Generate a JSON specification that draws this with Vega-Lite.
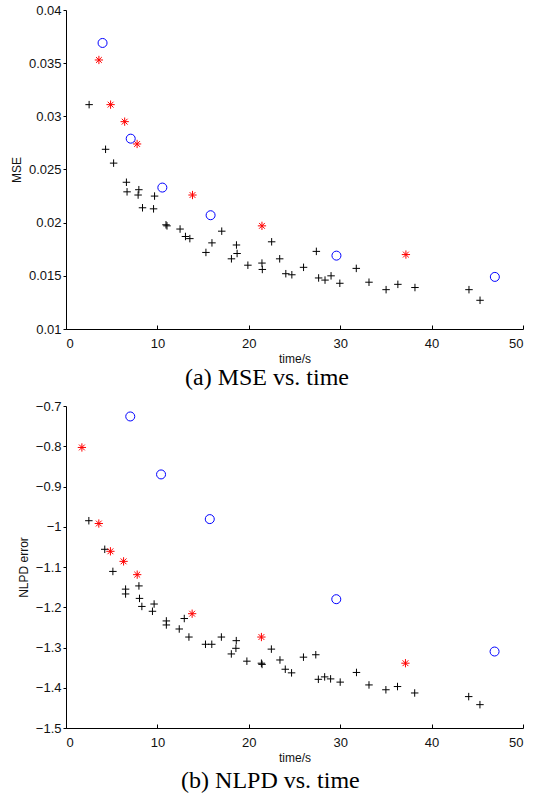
{
  "$schema": "https://vega.github.io/schema/vega-lite/v6.json",
  "background": "white",
  "padding": {"left": 10, "top": 4, "right": 10, "bottom": 0},
  "config": {
    "view": {"stroke": null},
    "axis": {
      "grid": false,
      "domainColor": "#000",
      "tickColor": "#000",
      "domainWidth": 1,
      "tickWidth": 1,
      "labelColor": "#111",
      "titleColor": "#111",
      "labelFont": "Liberation Sans",
      "titleFont": "Liberation Sans",
      "labelFontSize": 13,
      "titleFontSize": 12,
      "titleFontWeight": "normal"
    },
    "title": {"font": "Liberation Serif", "fontSize": 24, "fontWeight": "normal", "color": "#000"}
  },
  "columns": 1,
  "spacing": 10,
  "datasets": {
    "mse": [
      {"time": 2.53, "value": 0.0311, "method": "plus"},
      {"time": 4.33, "value": 0.0269, "method": "plus"},
      {"time": 5.21, "value": 0.0256, "method": "plus"},
      {"time": 6.61, "value": 0.0238, "method": "plus"},
      {"time": 6.68, "value": 0.0229, "method": "plus"},
      {"time": 7.97, "value": 0.0231, "method": "plus"},
      {"time": 7.89, "value": 0.0226, "method": "plus"},
      {"time": 9.69, "value": 0.0225, "method": "plus"},
      {"time": 8.37, "value": 0.0214, "method": "plus"},
      {"time": 9.58, "value": 0.0213, "method": "plus"},
      {"time": 10.94, "value": 0.0198, "method": "plus"},
      {"time": 11.05, "value": 0.0197, "method": "plus"},
      {"time": 12.48, "value": 0.0194, "method": "plus"},
      {"time": 13.07, "value": 0.0187, "method": "plus"},
      {"time": 13.55, "value": 0.0185, "method": "plus"},
      {"time": 17.04, "value": 0.0192, "method": "plus"},
      {"time": 15.97, "value": 0.0181, "method": "plus"},
      {"time": 15.31, "value": 0.0172, "method": "plus"},
      {"time": 18.65, "value": 0.0179, "method": "plus"},
      {"time": 18.72, "value": 0.0171, "method": "plus"},
      {"time": 18.1, "value": 0.0166, "method": "plus"},
      {"time": 19.9, "value": 0.016, "method": "plus"},
      {"time": 21.44, "value": 0.0162, "method": "plus"},
      {"time": 21.48, "value": 0.0156, "method": "plus"},
      {"time": 22.5, "value": 0.0182, "method": "plus"},
      {"time": 23.38, "value": 0.0166, "method": "plus"},
      {"time": 24.05, "value": 0.0152, "method": "plus"},
      {"time": 24.71, "value": 0.0151, "method": "plus"},
      {"time": 25.99, "value": 0.0158, "method": "plus"},
      {"time": 27.39, "value": 0.0173, "method": "plus"},
      {"time": 27.64, "value": 0.0148, "method": "plus"},
      {"time": 28.34, "value": 0.0146, "method": "plus"},
      {"time": 29.0, "value": 0.015, "method": "plus"},
      {"time": 29.96, "value": 0.0143, "method": "plus"},
      {"time": 31.76, "value": 0.0157, "method": "plus"},
      {"time": 33.15, "value": 0.0144, "method": "plus"},
      {"time": 35.02, "value": 0.0137, "method": "plus"},
      {"time": 36.31, "value": 0.0142, "method": "plus"},
      {"time": 38.18, "value": 0.0139, "method": "plus"},
      {"time": 44.09, "value": 0.0137, "method": "plus"},
      {"time": 45.3, "value": 0.0127, "method": "plus"},
      {"time": 3.6, "value": 0.0353, "method": "star"},
      {"time": 4.88, "value": 0.0311, "method": "star"},
      {"time": 6.42, "value": 0.0295, "method": "star"},
      {"time": 7.78, "value": 0.0274, "method": "star"},
      {"time": 13.84, "value": 0.0226, "method": "star"},
      {"time": 21.44, "value": 0.0197, "method": "star"},
      {"time": 37.19, "value": 0.017, "method": "star"},
      {"time": 4.0, "value": 0.0369, "method": "circle"},
      {"time": 7.08, "value": 0.0279, "method": "circle"},
      {"time": 10.54, "value": 0.0233, "method": "circle"},
      {"time": 15.82, "value": 0.0207, "method": "circle"},
      {"time": 29.59, "value": 0.0169, "method": "circle"},
      {"time": 46.92, "value": 0.0149, "method": "circle"}
    ],
    "nlpd": [
      {"time": 2.5, "value": -0.985, "method": "plus"},
      {"time": 4.24, "value": -1.056, "method": "plus"},
      {"time": 5.13, "value": -1.111, "method": "plus"},
      {"time": 6.52, "value": -1.155, "method": "plus"},
      {"time": 6.52, "value": -1.167, "method": "plus"},
      {"time": 7.98, "value": -1.147, "method": "plus"},
      {"time": 8.04, "value": -1.178, "method": "plus"},
      {"time": 9.64, "value": -1.192, "method": "plus"},
      {"time": 8.3, "value": -1.198, "method": "plus"},
      {"time": 9.46, "value": -1.21, "method": "plus"},
      {"time": 10.98, "value": -1.234, "method": "plus"},
      {"time": 10.98, "value": -1.244, "method": "plus"},
      {"time": 12.39, "value": -1.254, "method": "plus"},
      {"time": 12.94, "value": -1.228, "method": "plus"},
      {"time": 13.45, "value": -1.274, "method": "plus"},
      {"time": 17.0, "value": -1.274, "method": "plus"},
      {"time": 15.95, "value": -1.292, "method": "plus"},
      {"time": 15.26, "value": -1.292, "method": "plus"},
      {"time": 18.63, "value": -1.283, "method": "plus"},
      {"time": 18.59, "value": -1.302, "method": "plus"},
      {"time": 18.09, "value": -1.316, "method": "plus"},
      {"time": 19.79, "value": -1.334, "method": "plus"},
      {"time": 21.38, "value": -1.339, "method": "plus"},
      {"time": 21.45, "value": -1.342, "method": "plus"},
      {"time": 22.47, "value": -1.304, "method": "plus"},
      {"time": 23.41, "value": -1.331, "method": "plus"},
      {"time": 23.99, "value": -1.354, "method": "plus"},
      {"time": 24.68, "value": -1.363, "method": "plus"},
      {"time": 25.98, "value": -1.324, "method": "plus"},
      {"time": 27.33, "value": -1.318, "method": "plus"},
      {"time": 27.61, "value": -1.379, "method": "plus"},
      {"time": 28.3, "value": -1.373, "method": "plus"},
      {"time": 28.95, "value": -1.378, "method": "plus"},
      {"time": 30.0, "value": -1.386, "method": "plus"},
      {"time": 31.78, "value": -1.362, "method": "plus"},
      {"time": 33.15, "value": -1.393, "method": "plus"},
      {"time": 35.0, "value": -1.405, "method": "plus"},
      {"time": 36.27, "value": -1.397, "method": "plus"},
      {"time": 38.15, "value": -1.413, "method": "plus"},
      {"time": 44.06, "value": -1.422, "method": "plus"},
      {"time": 45.29, "value": -1.442, "method": "plus"},
      {"time": 1.74, "value": -0.803, "method": "star"},
      {"time": 3.59, "value": -0.992, "method": "star"},
      {"time": 4.86, "value": -1.061, "method": "star"},
      {"time": 6.3, "value": -1.086, "method": "star"},
      {"time": 7.79, "value": -1.119, "method": "star"},
      {"time": 13.8, "value": -1.216, "method": "star"},
      {"time": 21.38, "value": -1.274, "method": "star"},
      {"time": 37.14, "value": -1.339, "method": "star"},
      {"time": 7.03, "value": -0.726, "method": "circle"},
      {"time": 10.4, "value": -0.87, "method": "circle"},
      {"time": 15.73, "value": -0.981, "method": "circle"},
      {"time": 29.57, "value": -1.18, "method": "circle"},
      {"time": 46.89, "value": -1.31, "method": "circle"}
    ]
  },
  "concat": [
    {
      "width": 457,
      "height": 319,
      "title": {"text": "(a) MSE vs. time", "orient": "bottom", "anchor": "middle", "frame": "bounds", "offset": 2},
      "data": {"name": "mse"},
      "mark": {"type": "point", "filled": false, "strokeWidth": 1, "opacity": 1},
      "encoding": {
        "x": {"field": "time", "type": "quantitative", "scale": {"domain": [0, 50], "nice": false},
          "axis": {"title": "time/s", "values": [0, 10, 20, 30, 40, 50], "tickSize": -4, "labelPadding": 12, "titlePadding": 3}},
        "y": {"field": "value", "type": "quantitative", "scale": {"domain": [0.01, 0.04], "nice": false, "zero": false},
          "axis": {"title": "MSE", "values": [0.01, 0.015, 0.02, 0.025, 0.03, 0.035, 0.04], "format": "~g", "tickSize": 3, "labelPadding": 2, "titlePadding": 5}},
        "shape": {"field": "method", "type": "nominal", "legend": null,
          "scale": {"domain": ["plus", "star", "circle"], "range": ["M-1,0L1,0M0,-1L0,1", "M-1,0L1,0M0,-1L0,1M-0.7,-0.7L0.7,0.7M-0.7,0.7L0.7,-0.7", "circle"]}},
        "color": {"field": "method", "type": "nominal", "legend": null,
          "scale": {"domain": ["plus", "star", "circle"], "range": ["#000000", "#ff0000", "#0000ff"]}},
        "size": {"field": "method", "type": "ordinal", "legend": null,
          "scale": {"domain": ["plus", "star", "circle"], "range": [56, 81, 110]}}
      }
    },
    {
      "width": 457,
      "height": 322,
      "title": {"text": "(b) NLPD vs. time", "orient": "bottom", "anchor": "middle", "frame": "bounds", "offset": 6},
      "data": {"name": "nlpd"},
      "mark": {"type": "point", "filled": false, "strokeWidth": 1, "opacity": 1},
      "encoding": {
        "x": {"field": "time", "type": "quantitative", "scale": {"domain": [0, 50], "nice": false},
          "axis": {"title": "time/s", "values": [0, 10, 20, 30, 40, 50], "tickSize": -4, "labelPadding": 12, "titlePadding": 3}},
        "y": {"field": "value", "type": "quantitative", "scale": {"domain": [-1.5, -0.7], "nice": false, "zero": false},
          "axis": {"title": "NLPD error", "values": [-1.5, -1.4, -1.3, -1.2, -1.1, -1, -0.9, -0.8, -0.7], "format": "~g", "tickSize": 3, "labelPadding": 2, "titlePadding": 5}},
        "shape": {"field": "method", "type": "nominal", "legend": null,
          "scale": {"domain": ["plus", "star", "circle"], "range": ["M-1,0L1,0M0,-1L0,1", "M-1,0L1,0M0,-1L0,1M-0.7,-0.7L0.7,0.7M-0.7,0.7L0.7,-0.7", "circle"]}},
        "color": {"field": "method", "type": "nominal", "legend": null,
          "scale": {"domain": ["plus", "star", "circle"], "range": ["#000000", "#ff0000", "#0000ff"]}},
        "size": {"field": "method", "type": "ordinal", "legend": null,
          "scale": {"domain": ["plus", "star", "circle"], "range": [56, 81, 110]}}
      }
    }
  ]
}
